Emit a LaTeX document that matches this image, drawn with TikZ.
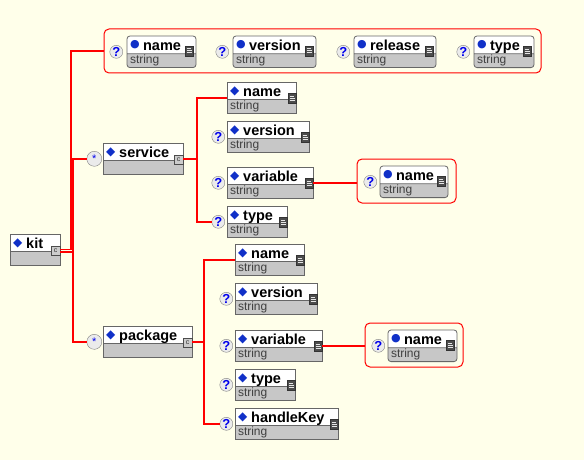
\documentclass[tikz,border=0pt]{standalone}
\usepackage{fontspec}
\setmainfont{Liberation Sans}
\newfontfamily\symfont{DejaVu Sans}
\usepackage{tikz}
\usetikzlibrary{shapes,calc,positioning}
\definecolor{bgyellow}{RGB}{255,255,234}
\definecolor{mkblue}{RGB}{16,48,200}
\definecolor{qblue}{RGB}{0,0,235}
\definecolor{linkred}{RGB}{255,0,0}
\newcommand{\elmark}{\textcolor{mkblue}{\symfont\fontsize{12}{12}\selectfont\raisebox{2pt}{◆}}\hspace{4pt}}
\newcommand{\atmark}{\textcolor{mkblue}{\symfont\fontsize{11}{11}\selectfont\raisebox{2.5pt}{●}}\hspace{3.5pt}}
\newcommand{\hdstrut}{\rule[-3pt]{0pt}{17pt}}
\newcommand{\tystrut}{\rule[-4pt]{0pt}{13pt}}
\newcommand{\typefont}{\fontsize{12}{13}\selectfont\mdseries\color{black!75}}
\tikzstyle{elem}=[draw=black!60, line width=0.8pt, rectangle split, rectangle split parts=2,
    rectangle split part fill={white,black!22}, rectangle split part align={left},
    inner xsep=3pt, inner ysep=0pt, outer sep=0pt, anchor=north west, font=\fontsize{14.5}{16}\selectfont\bfseries]
\tikzstyle{attr}=[elem, rounded corners=3pt]
\tikzstyle{grp}=[draw=linkred, line width=1pt, rounded corners=5pt, anchor=north west, inner sep=0pt, outer sep=0pt]
\tikzstyle{link}=[draw=linkred, line width=2pt]
\tikzstyle{opt}=[circle, draw=black!50, fill=black!8, minimum size=13pt, inner sep=0pt,
    text=qblue, font=\fontsize{13}{13}\selectfont\bfseries]
\tikzstyle{mult}=[circle, draw=black!50, fill=black!8, minimum size=15pt, inner sep=0pt,
    text=qblue, font=\fontsize{11}{11}\selectfont]
\tikzstyle{sicon}=[draw=black!80, fill=black!70, minimum width=8pt, minimum height=10pt,
    inner sep=0pt, outer sep=0pt, anchor=east, path picture={
      \draw[black!10, line width=0.6pt] ([xshift=1.5pt,yshift=3pt]path picture bounding box.south west) -- ++(5pt,0);
      \draw[black!10, line width=0.6pt] ([xshift=1.5pt,yshift=5pt]path picture bounding box.south west) -- ++(5pt,0);
      \draw[black!10, line width=0.6pt] ([xshift=1.5pt,yshift=7pt]path picture bounding box.south west) -- ++(4pt,0);}]
\tikzstyle{cicon}=[draw=black!70, fill=black!20, minimum size=9pt, inner sep=0pt, outer sep=0pt, anchor=east,
    font=\fontsize{7}{7}\selectfont, text=black!80]

\begin{document}
\begin{tikzpicture}[x=1pt,y=-1pt]
    \fill[bgyellow] (0,0) rectangle (584,460);
    \useasboundingbox (0,0) rectangle (584,460);

    % root
    \node[elem] (kit) at (10,234) {\makebox[44pt][l]{\elmark kit}\hdstrut\nodepart{two}\tystrut};
    \node[cicon, yshift=1pt] (kit-ic) at (kit.text split east) {c};

    % attributes of kit
    \node[grp, minimum width=437pt, minimum height=44pt] (attrs) at (104,29) {};
    \node[attr] (aname) at (127,36) {\makebox[63pt][l]{\atmark name}\hdstrut\nodepart{two}\typefont string\tystrut};
    \node[attr] (aver) at (233,36) {\makebox[77pt][l]{\atmark version}\hdstrut\nodepart{two}\typefont string\tystrut};
    \node[attr] (arel) at (354,36) {\makebox[76pt][l]{\atmark release}\hdstrut\nodepart{two}\typefont string\tystrut};
    \node[attr] (atype) at (474,36) {\makebox[54pt][l]{\atmark type}\hdstrut\nodepart{two}\typefont string\tystrut};
    \node[sicon, xshift=-3pt, yshift=3pt] (aname-ic) at (aname.text split east) {};
    \node[sicon, xshift=-3pt, yshift=3pt] (aver-ic) at (aver.text split east) {};
    \node[sicon, xshift=-3pt, yshift=3pt] (arel-ic) at (arel.text split east) {};
    \node[sicon, xshift=-3pt, yshift=3pt] (atype-ic) at (atype.text split east) {};
    \node[opt, left=4pt of aname] (aname-q) {?};
    \node[opt, left=4pt of aver] (aver-q) {?};
    \node[opt, left=4pt of arel] (arel-q) {?};
    \node[opt, left=4pt of atype] (atype-q) {?};

    % service
    \node[elem] (svc) at (103,143) {\makebox[74pt][l]{\elmark service}\hdstrut\nodepart{two}\tystrut};
    \node[cicon, yshift=1.5pt] (svc-ic) at (svc.text split east) {c};
    \node[mult, left=1pt of svc] (svc-m) {*};
    \node[elem] (sname) at (227,82) {\makebox[63pt][l]{\elmark name}\hdstrut\nodepart{two}\typefont string\tystrut};
    \node[elem] (sver) at (227,121) {\makebox[76pt][l]{\elmark version}\hdstrut\nodepart{two}\typefont string\tystrut};
    \node[elem] (svar) at (227,167) {\makebox[80pt][l]{\elmark variable}\hdstrut\nodepart{two}\typefont string\tystrut};
    \node[elem] (stype) at (227,206) {\makebox[54pt][l]{\elmark type}\hdstrut\nodepart{two}\typefont string\tystrut};
    \node[sicon, yshift=1.5pt] (sname-ic) at (sname.text split east) {};
    \node[sicon, yshift=1.5pt] (sver-ic) at (sver.text split east) {};
    \node[sicon, yshift=1.5pt] (svar-ic) at (svar.text split east) {};
    \node[sicon, yshift=1.5pt] (stype-ic) at (stype.text split east) {};
    \node[opt, left=2pt of sver] (sver-q) {?};
    \node[opt, left=2pt of svar] (svar-q) {?};
    \node[opt, left=2pt of stype] (stype-q) {?};
    \node[grp, minimum width=99pt, minimum height=44pt] (svar-g) at (357,159) {};
    \node[attr] (svname) at (380,166) {\makebox[62pt][l]{\atmark name}\hdstrut\nodepart{two}\typefont string\tystrut};
    \node[sicon, xshift=-3pt, yshift=3pt] (svname-ic) at (svname.text split east) {};
    \node[opt, left=3pt of svname] (svname-q) {?};

    % package
    \node[elem] (pkg) at (103,326) {\makebox[83pt][l]{\elmark package}\hdstrut\nodepart{two}\tystrut};
    \node[cicon, yshift=1.5pt] (pkg-ic) at (pkg.text split east) {c};
    \node[mult, left=1pt of pkg] (pkg-m) {*};
    \node[elem] (pname) at (235,244) {\makebox[63pt][l]{\elmark name}\hdstrut\nodepart{two}\typefont string\tystrut};
    \node[elem] (pver) at (235,283) {\makebox[76pt][l]{\elmark version}\hdstrut\nodepart{two}\typefont string\tystrut};
    \node[elem] (pvar) at (235,330) {\makebox[81pt][l]{\elmark variable}\hdstrut\nodepart{two}\typefont string\tystrut};
    \node[elem] (ptype) at (235,369) {\makebox[54pt][l]{\elmark type}\hdstrut\nodepart{two}\typefont string\tystrut};
    \node[elem] (pkey) at (235,408) {\makebox[97pt][l]{\elmark handleKey}\hdstrut\nodepart{two}\typefont string\tystrut};
    \node[sicon, yshift=1.5pt] (pname-ic) at (pname.text split east) {};
    \node[sicon, yshift=1.5pt] (pver-ic) at (pver.text split east) {};
    \node[sicon, yshift=1.5pt] (pvar-ic) at (pvar.text split east) {};
    \node[sicon, yshift=1.5pt] (ptype-ic) at (ptype.text split east) {};
    \node[sicon, yshift=1.5pt] (pkey-ic) at (pkey.text split east) {};
    \node[opt, left=2pt of pver] (pver-q) {?};
    \node[opt, left=2pt of pvar] (pvar-q) {?};
    \node[opt, left=2pt of ptype] (ptype-q) {?};
    \node[opt, left=2pt of pkey] (pkey-q) {?};
    \node[grp, minimum width=98pt, minimum height=44pt] (pvar-g) at (365,323) {};
    \node[attr] (pvname) at (388,330) {\makebox[63pt][l]{\atmark name}\hdstrut\nodepart{two}\typefont string\tystrut};
    \node[sicon, xshift=-3pt, yshift=3pt] (pvname-ic) at (pvname.text split east) {};
    \node[opt, left=3pt of pvname] (pvname-q) {?};

    % links
    \coordinate (kit-sp) at ([xshift=13pt,yshift=-1.2pt]kit-ic.east);
    \coordinate (svc-sp) at ([xshift=14pt]svc-ic.east);
    \coordinate (pkg-sp) at ([xshift=12pt]pkg-ic.east);
    \draw[link, line width=1.4pt] ([yshift=1.2pt]kit-ic.east) -| ([xshift=-33pt]attrs.west) -- (attrs.west);
    \draw[link, line width=1.4pt] ([yshift=-1.2pt]kit-ic.east) -- (kit-sp);
    \draw[link] (svc-m.west) -| (kit-sp) |- (pkg-m.west);
    \draw[link] (svc-ic.east) -- (svc-sp);
    \draw[link] (sname.west) -| (svc-sp) |- (stype-q.west);
    \draw[link] (svar-ic.east) -- (svar-ic.east -| svar-g.west);
    \draw[link] (pkg-ic.east) -- (pkg-sp);
    \draw[link] (pname.west) -| (pkg-sp) |- (pkey-q.west);
    \draw[link] (pvar-ic.east) -- (pvar-ic.east -| pvar-g.west);
\end{tikzpicture}
\end{document}
